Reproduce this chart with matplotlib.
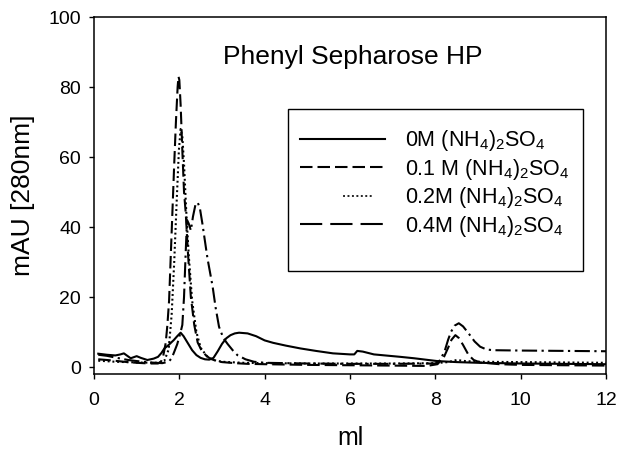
import matplotlib
matplotlib.use("Agg")
import matplotlib.pyplot as plt
from matplotlib.lines import Line2D
from matplotlib.patches import Rectangle

plt.rcParams['font.family'] = ['Liberation Sans', 'DejaVu Sans']
plt.rcParams['mathtext.fontset'] = 'custom'
plt.rcParams['mathtext.rm'] = 'Liberation Sans'
plt.rcParams['mathtext.it'] = 'Liberation Sans:italic'
plt.rcParams['mathtext.bf'] = 'Liberation Sans:bold'
plt.rcParams['lines.scale_dashes'] = False

# Elution volume (ml) and absorbance (mAU at 280 nm) for each salt concentration
x_0M = [0.1, 0.3, 0.5, 0.62, 0.7, 0.78, 0.86, 1.0, 1.1, 1.25, 1.4, 1.5, 1.58, 1.65,
        1.75, 1.87, 1.95, 2.03, 2.1, 2.2, 2.3, 2.4, 2.5, 2.6, 2.7, 2.8, 2.9, 3.0,
        3.1, 3.2, 3.3, 3.4, 3.6, 3.8, 4.0, 4.2, 4.5, 4.84, 5.2, 5.6, 6.0, 6.1,
        6.17, 6.3, 6.56, 7.18, 7.5, 8.04, 8.5, 9.0, 9.5, 10.0, 11.0, 12.0]
y_0M = [3.8, 3.5, 3.3, 3.6, 3.9, 3.2, 2.5, 3.1, 2.6, 2.0, 2.4, 2.9, 4.0, 5.3,
        6.3, 7.7, 8.8, 9.8, 8.8, 6.8, 4.8, 3.4, 2.6, 2.2, 2.1, 2.6, 4.5, 6.6,
        8.2, 9.1, 9.6, 9.8, 9.6, 8.8, 7.6, 6.9, 6.1, 5.3, 4.6, 3.9, 3.6, 3.6,
        4.6, 4.4, 3.6, 2.9, 2.5, 1.7, 1.4, 1.2, 1.1, 1.0, 0.9, 0.8]

x_01M = [0.1, 0.4, 0.7, 1.0, 1.3, 1.5, 1.57, 1.62, 1.68, 1.72, 1.76, 1.80, 1.84,
         1.88, 1.92, 1.96, 1.98, 2.0, 2.03, 2.07, 2.11, 2.15, 2.2, 2.27, 2.35,
         2.43, 2.53, 2.62, 2.72, 2.85, 3.0, 3.3, 3.6, 4.0, 5.0, 6.0, 7.0, 7.8,
         8.05, 8.2, 8.3, 8.38, 8.47, 8.55, 8.65, 8.78, 8.9, 9.05, 9.5, 10.0,
         11.0, 12.0]
y_01M = [2.2, 1.9, 1.5, 1.2, 1.0, 1.0, 1.5, 3.0, 6.8, 12, 19, 32, 45,
         58, 70, 80, 83, 82, 75, 62, 50, 44, 33, 20, 12,
         7, 4.5, 3.4, 2.4, 1.8, 1.4, 1.1, 0.9, 0.8, 0.6, 0.5, 0.4, 0.3,
         0.8, 2.8, 5.5, 7.8, 9.1, 8.3, 6.3, 3.4, 2.0, 1.3, 0.8, 0.6,
         0.5, 0.4]

x_02M = [0.1, 0.5, 1.0, 1.5, 1.65, 1.75, 1.82, 1.88, 1.94, 1.99, 2.03, 2.07,
         2.11, 2.16, 2.22, 2.3, 2.4, 2.5, 2.65, 2.8, 3.0, 3.5, 4.0, 5.0, 6.0,
         7.0, 8.0, 8.3, 8.5, 8.7, 9.0, 10.0, 11.0, 12.0]
y_02M = [1.8, 1.5, 1.3, 1.2, 1.8, 5, 15, 30, 48, 62, 68, 66,
         58, 45, 32, 19, 10, 5.5, 3.0, 2.0, 1.5, 1.2, 1.1, 1.0, 1.0,
         1.0, 1.1, 1.4, 2.0, 1.7, 1.5, 1.4, 1.3, 1.2]

x_04M = [0.1, 0.3, 0.5, 0.8, 1.0, 1.3, 1.6, 1.75, 1.82, 1.87, 1.95, 2.02, 2.07,
         2.11, 2.15, 2.18, 2.22, 2.27, 2.32, 2.38, 2.43, 2.48, 2.54, 2.6, 2.66,
         2.72, 2.78, 2.85, 2.93, 3.03, 3.13, 3.25, 3.36, 3.55, 3.75, 4.0, 5.0,
         6.0, 7.0, 8.0, 8.12, 8.23, 8.3, 8.37, 8.45, 8.55, 8.65, 8.78, 8.92,
         9.05, 9.2, 9.36, 10.0, 11.0, 12.0]
y_04M = [3.5, 3.2, 2.7, 2.0, 1.7, 1.3, 1.1, 1.5, 2.5, 4, 6.5, 9.5, 12,
         20, 33, 42, 41, 39, 43, 46.5, 47, 45.5, 41, 36, 31,
         27, 23, 17, 11.5, 8.3, 6.6, 4.8, 3.4, 2.2, 1.5, 1.2, 1.0,
         0.9, 0.9, 1.0, 2.0, 5.0, 7.8, 10.1, 11.8, 12.5, 11.6, 9.6, 7.3,
         5.8, 5.0, 4.8, 4.7, 4.6, 4.5]

labels = [r"0M (NH$_4$)$_2$SO$_4$",
          r"0.1 M (NH$_4$)$_2$SO$_4$",
          r"0.2M (NH$_4$)$_2$SO$_4$",
          r"0.4M (NH$_4$)$_2$SO$_4$"]

x_ticks = [0, 2, 4, 6, 8, 10, 12]
y_ticks = [0, 20, 40, 60, 80, 100]

lw = 1.5
styles = [
    dict(linestyle='-'),
    dict(linestyle=(0, (9, 3.6))),
    dict(linestyle=(0, (1.4, 2.0))),
    dict(linestyle=(0, (11, 3.2, 1.6, 3.2))),
]

fig = plt.figure(figsize=(6.18, 4.55), dpi=100)
ax = fig.add_axes([94 / 618, 1 - 374 / 455, 512 / 618, 357 / 455])

series = [(x_0M, y_0M), (x_01M, y_01M), (x_02M, y_02M), (x_04M, y_04M)]
for (xs, ys), st in zip(series, styles):
    ax.plot(xs, ys, color='black', lw=lw, **st)

ax.set_xlim(0, 12)
ax.set_ylim(-2, 100)
ax.set_xticks(x_ticks)
ax.set_yticks(y_ticks)
ax.tick_params(direction='out', length=3.8, width=1.0, labelsize=14,
               colors='black')
ax.tick_params(axis='x', pad=9.5)
ax.tick_params(axis='y', pad=5.5)
for sp in ax.spines.values():
    sp.set_linewidth(1.1)
    sp.set_color('black')

ax.set_xlabel('ml', fontsize=18, labelpad=12)
ax.set_ylabel('mAU [280nm]', fontsize=19, labelpad=10)

ax.text(0.506, 0.888, 'Phenyl Sepharose HP', transform=ax.transAxes,
        ha='center', va='center', fontsize=19)

# Legend box
ax.add_patch(Rectangle((0.379, 0.2885), 0.955 - 0.379, 0.742 - 0.2885,
                       transform=ax.transAxes, fill=True, facecolor='white',
                       edgecolor='black', lw=1.0, zorder=4))

# Legend keys: the dotted key is drawn only on the right part of the handle
dot_key = (0, (0.001, 31) + (1.4, 1.8) * 7 + (0.001, 40))
handles = [
    Line2D([], [], color='black', lw=lw, linestyle='-'),
    Line2D([], [], color='black', lw=lw, linestyle=(0, (9, 3.6))),
    Line2D([], [], color='black', lw=1.2, linestyle=dot_key, dash_capstyle='butt'),
    Line2D([], [], color='black', lw=lw, linestyle=(0, (16, 5.8))),
]
leg = ax.legend(handles, labels, loc='upper left',
                bbox_to_anchor=(0.377, 0.724), borderaxespad=0,
                fontsize=15.5, handlelength=3.95, handletextpad=0.93,
                labelspacing=0.16, borderpad=0.6, frameon=False)
leg.set_zorder(5)

fig.savefig('out.png', dpi=100)
